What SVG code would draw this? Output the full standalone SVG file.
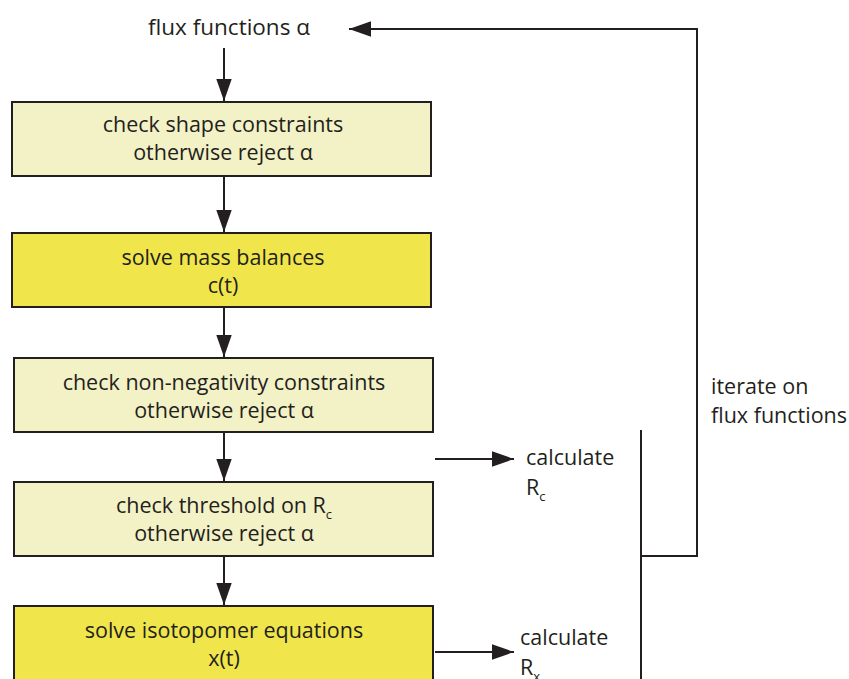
<svg xmlns="http://www.w3.org/2000/svg" width="849" height="679" viewBox="0 0 849 679">
<defs>
<style>
text{font-family:"Open Sans","Noto Sans","Liberation Sans",sans-serif;font-size:21.5px;fill:#231f20}
.c{text-anchor:middle}
.sub{font-size:13px}
.box{stroke:#231f20;stroke-width:2}
.light{fill:#f3f1c6}
.dark{fill:#f0e64b}
.ln{stroke:#231f20;stroke-width:2;fill:none}
</style>
<marker id="ah" viewBox="0 0 10 10" refX="10" refY="5" markerWidth="22" markerHeight="22" markerUnits="userSpaceOnUse" orient="auto">
<path d="M0,1.5 L10,5 L0,8.5 Z" fill="#231f20"/>
</marker>
</defs>
<rect width="849" height="679" fill="#ffffff"/>
<g id="start"><text class="c" x="229" y="35" style="font-size:22.5px">flux functions α</text></g>
<g id="n1"><rect class="box light" x="12" y="102" width="419" height="74"/>
<text class="c" x="223" y="132">check shape constraints</text>
<text class="c" x="223" y="160">otherwise reject α</text></g>
<g id="n2"><rect class="box dark" x="12" y="233" width="419" height="74"/>
<text class="c" x="223" y="265">solve mass balances</text>
<text class="c" x="223" y="293">c(t)</text></g>
<g id="n3"><rect class="box light" x="14" y="358" width="419" height="74"/>
<text class="c" x="224" y="390">check non-negativity constraints</text>
<text class="c" x="224" y="418">otherwise reject α</text></g>
<g id="n4"><rect class="box light" x="14" y="482" width="419" height="74"/>
<text class="c" x="224" y="513">check threshold on R<tspan class="sub" dy="6">c</tspan></text>
<text class="c" x="224" y="541">otherwise reject α</text></g>
<g id="n5"><rect class="box dark" x="14" y="606" width="419" height="90"/>
<text class="c" x="224" y="638">solve isotopomer equations</text>
<text class="c" x="224" y="666">x(t)</text></g>
<g id="rc"><text x="526" y="465">calculate</text><text x="526" y="495">R<tspan class="sub" dy="6">c</tspan></text></g>
<g id="rx"><text x="520" y="645">calculate</text><text x="520" y="675">R<tspan class="sub" dy="6">x</tspan></text></g>
<g id="iter"><text x="711" y="394">iterate on</text><text x="711" y="423">flux functions</text></g>
<g id="connectors">
<line class="ln" x1="224" y1="48" x2="224" y2="101" marker-end="url(#ah)"/>
<line class="ln" x1="224" y1="177" x2="224" y2="232" marker-end="url(#ah)"/>
<line class="ln" x1="224" y1="308" x2="224" y2="357" marker-end="url(#ah)"/>
<line class="ln" x1="224" y1="433" x2="224" y2="481" marker-end="url(#ah)"/>
<line class="ln" x1="224" y1="557" x2="224" y2="605" marker-end="url(#ah)"/>
<line class="ln" x1="435" y1="459" x2="514" y2="459" marker-end="url(#ah)"/>
<line class="ln" x1="435" y1="652" x2="514" y2="652" marker-end="url(#ah)"/>
<line class="ln" x1="641" y1="430" x2="641" y2="679"/>
<polyline class="ln" points="641,556 697,556 697,29 349,29" marker-end="url(#ah)"/>
</g>
</svg>
